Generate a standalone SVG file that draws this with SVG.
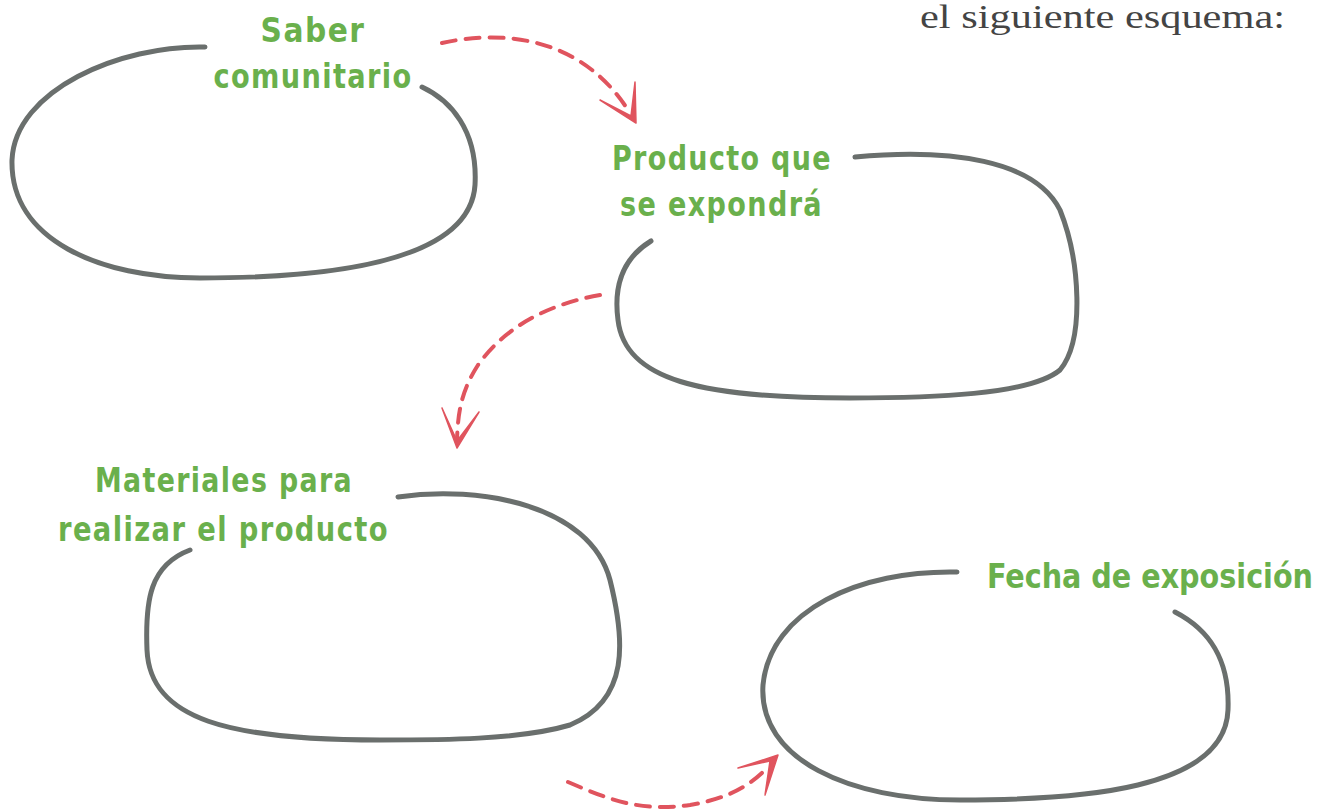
<svg xmlns="http://www.w3.org/2000/svg" width="1333" height="812" viewBox="0 0 1333 812">
<style>
.loop{fill:none;stroke:#6a6f6d;stroke-width:5;stroke-linecap:round;stroke-linejoin:round}
.dash{fill:none;stroke:#e0545e;stroke-width:4;stroke-linecap:round;stroke-dasharray:14 10}
.head{fill:#e0545e;stroke:#e0545e;stroke-width:1.5;stroke-linejoin:round}
.lbl{font-family:"Liberation Sans Narrow","DejaVu Sans Condensed","Liberation Sans",sans-serif;font-weight:bold;font-size:33px;fill:#6ab04c;letter-spacing:1.5px}
.top{font-family:"Liberation Serif","DejaVu Serif",serif;font-size:34px;fill:#444444}
</style>
<rect width="1333" height="812" fill="#ffffff"/>
<text class="top" x="920" y="28" textLength="365" lengthAdjust="spacingAndGlyphs">el siguiente esquema:</text>
<g id="connectors">
<path class="dash" d="M442,43 C500,30 580,35 628,110"/>
<polygon class="head" points="600,100 636,123 635,82 631,116"/>
<path class="dash" d="M600,295 C560,302 510,320 478,365 C462,390 458,410 457,440"/>
<polygon class="head" points="442,408 457,448 479,412 457,441"/>
<path class="dash" d="M568,782 C610,800 640,812 690,805 C720,800 745,790 765,770"/>
<polygon class="head" points="738,768 778,755 765,795 770,761"/>
</g>
<g id="node-saber">
<path class="loop" d="M205,47 C120,45 15,90 12,160 C10,240 100,278 200,278 C330,278 470,262 475,185 C478,130 450,100 422,87"/>
<text class="lbl" x="313" y="42" text-anchor="middle">Saber</text>
<text class="lbl" x="313" y="88" text-anchor="middle" textLength="199" lengthAdjust="spacingAndGlyphs">comunitario</text>
</g>
<g id="node-producto">
<path class="loop" d="M855,157 C950,148 1035,160 1060,210 C1080,260 1085,340 1060,370 C1030,395 930,398 850,398 C700,398 625,380 618,320 C614,290 620,260 651,241"/>
<text class="lbl" x="612" y="170" textLength="220" lengthAdjust="spacingAndGlyphs">Producto que</text>
<text class="lbl" x="620" y="216" textLength="203" lengthAdjust="spacingAndGlyphs">se expondrá</text>
</g>
<g id="node-materiales">
<path class="loop" d="M398,497 C480,485 590,505 610,580 C625,640 630,700 570,725 C520,740 440,740 380,740 C230,740 150,720 147,650 C145,600 150,565 190,550"/>
<text class="lbl" x="95" y="492" textLength="258" lengthAdjust="spacingAndGlyphs">Materiales para</text>
<text class="lbl" x="58" y="541" textLength="331" lengthAdjust="spacingAndGlyphs">realizar el producto</text>
</g>
<g id="node-fecha">
<path class="loop" d="M957,572 C860,570 770,610 763,685 C758,760 850,800 960,800 C1080,800 1225,790 1228,710 C1230,660 1210,630 1175,612"/>
<text class="lbl" x="987" y="588" textLength="326" lengthAdjust="spacingAndGlyphs" style="letter-spacing:0">Fecha de exposición</text>
</g>
</svg>
